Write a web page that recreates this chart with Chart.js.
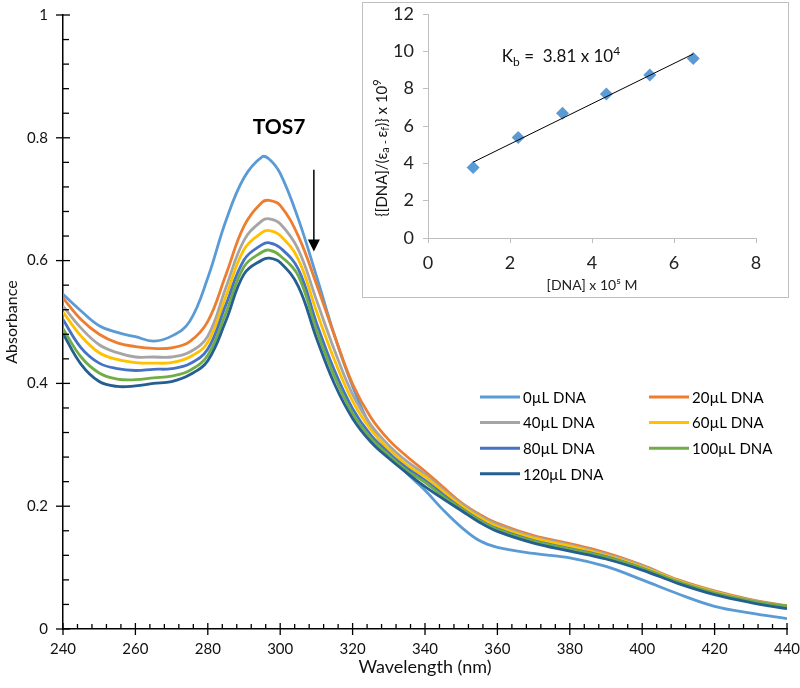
<!DOCTYPE html>
<html><head><meta charset="utf-8">
<script src="https://cdn.jsdelivr.net/npm/chart.js@4.4.1/dist/chart.umd.min.js"></script>
<style>
html,body{margin:0;padding:0;background:#fff;}
#wrap{position:relative;width:800px;height:688px;overflow:hidden;}
#main{position:absolute;left:0;top:0;}
#insetBox{position:absolute;left:362px;top:2px;width:425px;height:294px;border:1px solid #BFBFBF;background:#fff;}
#inset{display:block;}
</style></head><body>
<div id="wrap">
<canvas id="main" width="800" height="688"></canvas>
<div id="insetBox"><canvas id="inset" width="425" height="294"></canvas></div>
</div>
<script>
// ---------- data: main spectra ----------
const wavelengths = [240,245,250,255,260,265,270,275,280,285,290,295,297,300,305,310,315,320,325,330,335,340,345,350,355,360,370,380,390,400,410,420,430,440];
const abs0uL   = [0.545,0.518,0.494,0.483,0.476,0.469,0.477,0.501,0.572,0.665,0.735,0.769,0.765,0.742,0.668,0.575,0.478,0.395,0.330,0.288,0.254,0.226,0.194,0.166,0.144,0.133,0.123,0.116,0.102,0.080,0.057,0.037,0.026,0.017];
const abs20uL  = [0.539,0.504,0.480,0.466,0.460,0.457,0.458,0.468,0.501,0.577,0.656,0.695,0.698,0.690,0.640,0.562,0.478,0.399,0.345,0.308,0.281,0.257,0.231,0.206,0.187,0.172,0.152,0.139,0.124,0.104,0.080,0.062,0.048,0.038];
const abs40uL  = [0.526,0.490,0.463,0.450,0.443,0.443,0.443,0.451,0.477,0.556,0.633,0.665,0.668,0.660,0.618,0.536,0.454,0.382,0.333,0.299,0.273,0.252,0.227,0.204,0.185,0.170,0.150,0.137,0.122,0.103,0.079,0.061,0.047,0.037];
const abs60uL  = [0.516,0.477,0.450,0.439,0.434,0.433,0.434,0.443,0.467,0.542,0.618,0.646,0.649,0.641,0.602,0.518,0.438,0.371,0.325,0.293,0.267,0.248,0.224,0.201,0.182,0.167,0.148,0.135,0.120,0.101,0.078,0.060,0.046,0.036];
const abs80uL  = [0.504,0.458,0.433,0.424,0.421,0.423,0.424,0.432,0.456,0.528,0.601,0.626,0.629,0.621,0.586,0.499,0.421,0.359,0.316,0.286,0.262,0.242,0.219,0.197,0.178,0.163,0.144,0.131,0.118,0.099,0.076,0.058,0.045,0.035];
const abs100uL = [0.489,0.443,0.417,0.407,0.406,0.409,0.412,0.421,0.446,0.515,0.590,0.614,0.617,0.608,0.575,0.487,0.411,0.351,0.311,0.283,0.258,0.239,0.216,0.196,0.177,0.162,0.143,0.130,0.117,0.099,0.077,0.059,0.046,0.037];
const abs120uL = [0.481,0.431,0.403,0.395,0.396,0.400,0.403,0.414,0.437,0.502,0.578,0.601,0.604,0.597,0.558,0.474,0.399,0.343,0.305,0.278,0.254,0.232,0.212,0.193,0.174,0.159,0.140,0.127,0.114,0.096,0.074,0.056,0.043,0.033];
const seriesLabels = ['0µL DNA','20µL DNA','40µL DNA','60µL DNA','80µL DNA','100µL DNA','120µL DNA'];
const seriesColors = ['#5B9BD5','#ED7D31','#A5A5A5','#FFC000','#4472C4','#70AD47','#255E91'];
const mainXTicks = [240,260,280,300,320,340,360,380,400,420,440];
const mainYTicks = [0,0.2,0.4,0.6,0.8,1];

// ---------- data: inset (binding constant plot) ----------
const dnaConc = [1.10,2.20,3.28,4.35,5.41,6.47];
const ratioVals = [3.78,5.38,6.68,7.72,8.73,9.61];
const fitLineX = [1.10,6.47];
const fitLineY = [4.06,9.86];
const insetXTicks = [0,2,4,6,8];
const insetYTicks = [0,2,4,6,8,10,12];

const FONT = 'Lato, "Open Sans", sans-serif';
const allSeries = [abs0uL,abs20uL,abs40uL,abs60uL,abs80uL,abs100uL,abs120uL];

const mainDatasets = allSeries.map((s,i)=>({
  label: seriesLabels[i],
  data: wavelengths.map((w,k)=>({x:w,y:s[k]})),
  borderColor: seriesColors[i],
  backgroundColor: seriesColors[i],
  borderWidth: 2.8,
  pointRadius: 0,
  tension: 0.4,
  fill: false,
  order: allSeries.length - 1 - i
}));

const mainDecor = {
  id: 'mainDecor',
  afterDraw(chart){
    const {ctx, scales:{x,y}} = chart;
    ctx.save();
    ctx.strokeStyle = '#000';
    ctx.lineWidth = 1.3;
    const yAxisPx = y.getPixelForValue(0);
    const xAxisPx = x.getPixelForValue(x.min);
    for (let v = x.min; v <= x.max + 1e-9; v += 4) {
      const px = x.getPixelForValue(v);
      const major = mainXTicks.includes(v);
      ctx.beginPath();
      ctx.moveTo(px, yAxisPx - (major ? 6 : 5));
      ctx.lineTo(px, yAxisPx + (major ? 6 : 0));
      ctx.stroke();
    }
    for (let i = 0; i <= 25; i++) {
      const v = i * 0.04;
      const py = y.getPixelForValue(v);
      const major = i % 5 === 0;
      ctx.beginPath();
      ctx.moveTo(xAxisPx - (major ? 7 : 0), py);
      ctx.lineTo(xAxisPx + (major ? 7 : 6), py);
      ctx.stroke();
    }
    ctx.fillStyle = '#000';
    ctx.font = 'bold 21px ' + FONT;
    ctx.textAlign = 'center';
    ctx.textBaseline = 'alphabetic';
    ctx.fillText('TOS7', x.getPixelForValue(299.7), y.getPixelForValue(0.807));
    const ax = x.getPixelForValue(309.3);
    const ay0 = y.getPixelForValue(0.748);
    const ay1 = y.getPixelForValue(0.615);
    ctx.lineWidth = 1.5;
    ctx.beginPath(); ctx.moveTo(ax, ay0); ctx.lineTo(ax, ay1 - 10); ctx.stroke();
    ctx.beginPath(); ctx.moveTo(ax - 6, ay1 - 12); ctx.lineTo(ax + 6, ay1 - 12); ctx.lineTo(ax, ay1); ctx.closePath(); ctx.fill();
    ctx.font = '15px ' + FONT;
    ctx.textAlign = 'left';
    ctx.textBaseline = 'middle';
    const colX = [480, 649];
    chart.data.datasets.forEach((ds,i)=>{
      const col = i % 2, row = Math.floor(i/2);
      const lx = colX[col], ly = 397 + row*25.6;
      ctx.strokeStyle = ds.borderColor;
      ctx.lineWidth = 3;
      ctx.beginPath(); ctx.moveTo(lx, ly); ctx.lineTo(lx + 40, ly); ctx.stroke();
      ctx.fillStyle = '#000';
      ctx.fillText(ds.label, lx + 43, ly + 1);
    });
    ctx.restore();
  }
};

new Chart(document.getElementById('main'), {
  type: 'line',
  data: { datasets: mainDatasets },
  options: {
    responsive: false,
    animation: false,
    devicePixelRatio: 1,
    layout: { padding: { top: 15, right: 13, left: 0, bottom: 0 } },
    plugins: { legend: { display: false }, tooltip: { enabled: false } },
    scales: {
      x: {
        type: 'linear', min: 240, max: 440,
        afterBuildTicks: (s)=>{ s.ticks = mainXTicks.map(v=>({value:v})); },
        afterFit: (s)=>{ s.height = 59; s.paddingLeft = 0; s.paddingRight = 0; },
        grid: { display: false, drawTicks: false },
        border: { display: true, color: '#000', width: 1.5 },
        ticks: { color: '#111', font: { family: FONT, size: 15 }, padding: 11, maxRotation: 0 },
        title: { display: true, text: 'Wavelength (nm)', color: '#111', font: { family: FONT, size: 18 }, padding: { top: 0, bottom: 10 } }
      },
      y: {
        type: 'linear', min: 0, max: 1,
        afterBuildTicks: (s)=>{ s.ticks = mainYTicks.map(v=>({value:v})); },
        afterFit: (s)=>{ s.width = 63; s.paddingTop = 0; s.paddingBottom = 0; },
        grid: { display: false, drawTicks: false },
        border: { display: true, color: '#000', width: 1.5 },
        ticks: { color: '#111', font: { family: FONT, size: 15 }, padding: 15, callback: (v)=>String(Number(v.toFixed(2))) },
        title: { display: true, text: 'Absorbance', color: '#111', font: { family: FONT, size: 16 }, padding: { top: 2, bottom: 0 } }
      }
    }
  },
  plugins: [mainDecor]
});

// ---------- inset ----------
function drawRich(ctx, parts, x, y, align){
  let total = 0;
  parts.forEach(p=>{ ctx.font = p[1] + 'px ' + FONT; total += ctx.measureText(p[0]).width; });
  let cx = align === 'center' ? x - total/2 : x;
  ctx.textAlign = 'left';
  parts.forEach(p=>{ ctx.font = p[1] + 'px ' + FONT; ctx.fillText(p[0], cx, y + p[2]); cx += ctx.measureText(p[0]).width; });
}
const insetDecor = {
  id: 'insetDecor',
  afterDraw(chart){
    const {ctx, scales:{x,y}} = chart;
    ctx.save();
    ctx.fillStyle = '#111';
    ctx.textBaseline = 'alphabetic';
    drawRich(ctx, [['K',17,0],['b',12,4],[' =  3.81 x 10',17,0],['4',12,-7]], x.getPixelForValue(1.80), y.getPixelForValue(9.43), 'left');
    ctx.translate(19, 145);
    ctx.rotate(-Math.PI/2);
    ctx.textBaseline = 'middle';
    drawRich(ctx, [['{[DNA]/(ε',15,0],['a - ',11,3],['ε',15,0],['f',11,3],[')} x 10',15,0],['9',11,-5]], 0, 0, 'center');
    ctx.restore();
  }
};

new Chart(document.getElementById('inset'), {
  type: 'scatter',
  data: {
    datasets: [
      { label: 'fit', data: fitLineX.map((v,i)=>({x:v,y:fitLineY[i]})), showLine: true, borderColor: '#000', borderWidth: 1, pointRadius: 0, order: 0 },
      { label: 'Kb', data: dnaConc.map((v,i)=>({x:v,y:ratioVals[i]})), pointStyle: 'rectRot', pointRadius: 6.5, backgroundColor: '#5B9BD5', borderColor: '#5B9BD5', borderWidth: 0, order: 1 }
    ]
  },
  options: {
    responsive: false,
    animation: false,
    devicePixelRatio: 1,
    layout: { padding: { top: 11, right: 32, left: 0, bottom: 0 } },
    plugins: { legend: { display: false }, tooltip: { enabled: false } },
    scales: {
      x: {
        type: 'linear', min: 0, max: 8,
        afterBuildTicks: (s)=>{ s.ticks = insetXTicks.map(v=>({value:v})); },
        afterFit: (s)=>{ s.height = 59; s.paddingLeft = 0; s.paddingRight = 0; },
        grid: { display: true, drawOnChartArea: false, drawTicks: true, tickLength: 5, color: '#BFBFBF' },
        border: { display: true, color: '#BFBFBF', width: 1 },
        ticks: { color: '#222', font: { family: FONT, size: 18 }, padding: 9, maxRotation: 0 },
        title: { display: true, text: '[DNA] x 10⁵ M', color: '#222', font: { family: FONT, size: 14 }, padding: { top: 0, bottom: 3 } }
      },
      y: {
        type: 'linear', min: 0, max: 12,
        afterBuildTicks: (s)=>{ s.ticks = insetYTicks.map(v=>({value:v})); },
        afterFit: (s)=>{ s.width = 65; s.paddingTop = 0; s.paddingBottom = 0; },
        grid: { display: true, drawOnChartArea: false, drawTicks: true, tickLength: 5, color: '#BFBFBF' },
        border: { display: true, color: '#BFBFBF', width: 1 },
        ticks: { color: '#222', font: { family: FONT, size: 18 }, padding: 9 },
        title: { display: false }
      }
    }
  },
  plugins: [insetDecor]
});
</script>
</body></html>
